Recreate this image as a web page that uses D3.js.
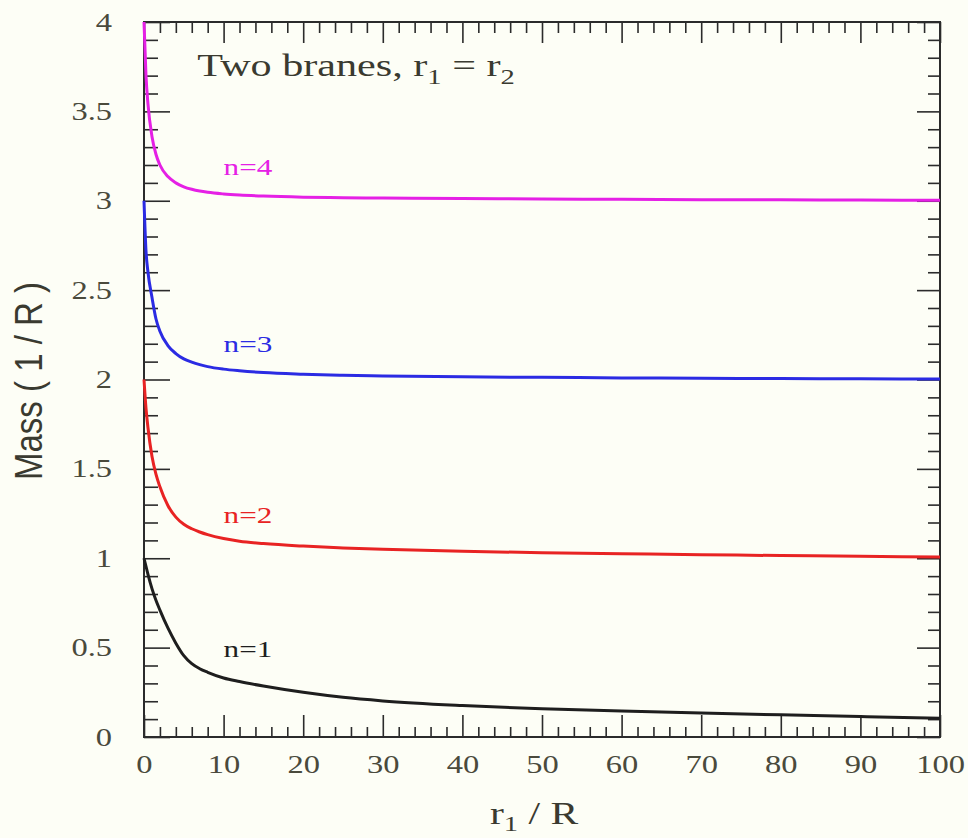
<!DOCTYPE html>
<html>
<head>
<meta charset="utf-8">
<script src="https://cdn.jsdelivr.net/npm/d3@7"></script>
<style>
  html, body { margin: 0; padding: 0; background: #fdfef6; }
  svg { display: block; }
</style>
</head>
<body>
<div id="chart"></div>
<script>
// x positions shared by all curves (r1 / R)
const xs = [0, 0.25, 0.5, 1, 1.5, 2, 3, 4, 5, 6, 7, 8, 10, 12, 15, 20, 25, 30, 40, 50, 60, 70, 80, 90, 100];
// mass values, one list per mode
const massN1 = [1.0, 0.955, 0.91, 0.83, 0.765, 0.71, 0.61, 0.525, 0.455, 0.41, 0.382, 0.362, 0.33, 0.31, 0.285, 0.25, 0.222, 0.202, 0.176, 0.158, 0.145, 0.134, 0.124, 0.114, 0.105];
const massN2 = [2.0, 1.84, 1.73, 1.57, 1.47, 1.40, 1.295, 1.23, 1.19, 1.165, 1.147, 1.132, 1.11, 1.095, 1.082, 1.068, 1.058, 1.05, 1.039, 1.031, 1.025, 1.02, 1.015, 1.011, 1.007];
const massN3 = [3.0, 2.72, 2.60, 2.46, 2.34, 2.27, 2.19, 2.145, 2.115, 2.097, 2.083, 2.072, 2.058, 2.049, 2.039, 2.03, 2.024, 2.02, 2.015, 2.012, 2.009, 2.007, 2.005, 2.004, 2.003];
const massN4 = [4.0, 3.70, 3.54, 3.36, 3.26, 3.2, 3.135, 3.1, 3.078, 3.064, 3.054, 3.047, 3.038, 3.032, 3.026, 3.02, 3.017, 3.015, 3.012, 3.01, 3.008, 3.006, 3.005, 3.004, 3.003];
const seriesNames = ["n=1", "n=2", "n=3", "n=4"];
const seriesColors = ["#1e1e1e", "#e82323", "#2b2be3", "#e520e5"];
// where each curve label sits (data units)
const labelX = [10, 10, 10, 10];
const labelY = [0.448, 1.197, 2.154, 3.144];
const xTicks = [0, 10, 20, 30, 40, 50, 60, 70, 80, 90, 100];
const yTicks = [0, 0.5, 1, 1.5, 2, 2.5, 3, 3.5, 4];

const W = 968, H = 838;
const margin = {left: 144, top: 22, right: 28, bottom: 101};
const iw = W - margin.left - margin.right, ih = H - margin.top - margin.bottom;
const SX = 1.3; // the original text is drawn wide

const svg = d3.select("#chart").append("svg").attr("width", W).attr("height", H);
svg.append("rect").attr("width", W).attr("height", H).attr("fill", "#fdfef6");
const g = svg.append("g").attr("transform", `translate(${margin.left},${margin.top})`);

const x = d3.scaleLinear().domain([0, 100]).range([0, iw]);
const y = d3.scaleLinear().domain([0, 4]).range([ih, 0]);

const xMinor = d3.range(0, 101, 2).filter(v => v % 10 !== 0);
const yMinor = d3.range(0, 41, 1).map(v => v / 10).filter(v => Math.round(v * 10) % 5 !== 0);

function styleAxis(sel) {
  sel.select(".domain").remove();
  sel.selectAll(".tick line").attr("stroke", "#2b2b2b").attr("stroke-width", 1.6);
  sel.selectAll(".tick text").attr("fill", "#4a4a3c")
    .style("font-family", "'Liberation Serif', 'Times New Roman', serif").style("font-size", "25px");
}

// bottom axis
g.append("g").attr("transform", `translate(0,${ih})`)
  .call(d3.axisBottom(x).tickValues(xTicks).tickSize(-22).tickPadding(18).tickFormat(d3.format("d")))
  .call(styleAxis)
  .call(s => s.selectAll(".tick text").attr("transform", `scale(${SX},1)`).attr("x", 0));
g.append("g").attr("transform", `translate(0,${ih})`)
  .call(d3.axisBottom(x).tickValues(xMinor).tickSize(-10).tickFormat(""))
  .call(styleAxis);
// top axis
g.append("g")
  .call(d3.axisTop(x).tickValues(xTicks).tickSize(-21).tickFormat(""))
  .call(styleAxis);
g.append("g")
  .call(d3.axisTop(x).tickValues(xMinor).tickSize(-11).tickFormat(""))
  .call(styleAxis);
// left axis
g.append("g")
  .call(d3.axisLeft(y).tickValues(yTicks).tickSize(-26).tickPadding(0).tickFormat(d3.format("")))
  .call(styleAxis)
  .call(s => s.selectAll(".tick text").attr("x", 0).attr("transform", `translate(-32,0) scale(${SX},1)`));
g.append("g")
  .call(d3.axisLeft(y).tickValues(yMinor).tickSize(-14).tickFormat(""))
  .call(styleAxis);
// right axis
g.append("g").attr("transform", `translate(${iw},0)`)
  .call(d3.axisRight(y).tickValues(yTicks).tickSize(-23).tickFormat(""))
  .call(styleAxis);
g.append("g").attr("transform", `translate(${iw},0)`)
  .call(d3.axisRight(y).tickValues(yMinor).tickSize(-12).tickFormat(""))
  .call(styleAxis);

// frame
g.append("rect").attr("width", iw).attr("height", ih)
  .attr("fill", "none").attr("stroke", "#2b2b2b").attr("stroke-width", 2);

// curves
const allSeries = [massN1, massN2, massN3, massN4];
const line = d3.line().x(d => x(d[0])).y(d => y(d[1])).curve(d3.curveMonotoneX);
allSeries.forEach((vals, i) => {
  g.append("path")
    .datum(xs.map((xv, j) => [xv, vals[j]]))
    .attr("fill", "none")
    .attr("stroke", seriesColors[i])
    .attr("stroke-width", 3)
    .attr("stroke-linejoin", "round")
    .attr("d", line);
});

// curve labels
seriesNames.forEach((name, i) => {
  g.append("text")
    .attr("transform", `translate(${x(labelX[i])},${y(labelY[i])}) scale(${SX},1)`)
    .attr("fill", seriesColors[i])
    .style("font-family", "'Liberation Serif', serif").style("font-size", "24px")
    .text(name);
});

// title inside the frame
const title = g.append("text")
  .attr("transform", `translate(${x(6.7)},${y(3.70)}) scale(1.36,1)`)
  .attr("fill", "#3a3a30")
  .style("font-family", "'Liberation Serif', serif").style("font-size", "31px");
title.append("tspan").text("Two branes, r");
title.append("tspan").attr("dy", 8).style("font-size", "21px").text("1");
title.append("tspan").attr("dy", -8).text(" = r");
title.append("tspan").attr("dy", 8).style("font-size", "21px").text("2");

// axis titles
const xl = svg.append("text")
  .attr("transform", `translate(${margin.left + iw / 2 - 8},824) scale(${SX},1)`)
  .attr("text-anchor", "middle").attr("fill", "#3a3a30")
  .style("font-family", "'Liberation Serif', serif").style("font-size", "32px");
xl.append("tspan").text("r");
xl.append("tspan").attr("dy", 7).style("font-size", "22px").text("1");
xl.append("tspan").attr("dy", -7).text(" / R");

svg.append("text")
  .attr("transform", `translate(42,381) rotate(-90) scale(1,1.2)`)
  .attr("text-anchor", "middle").attr("fill", "#3a3a30")
  .style("font-family", "'Liberation Sans', Arial, sans-serif").style("font-size", "33px")
  .text("Mass ( 1 / R )");
</script>
</body>
</html>
